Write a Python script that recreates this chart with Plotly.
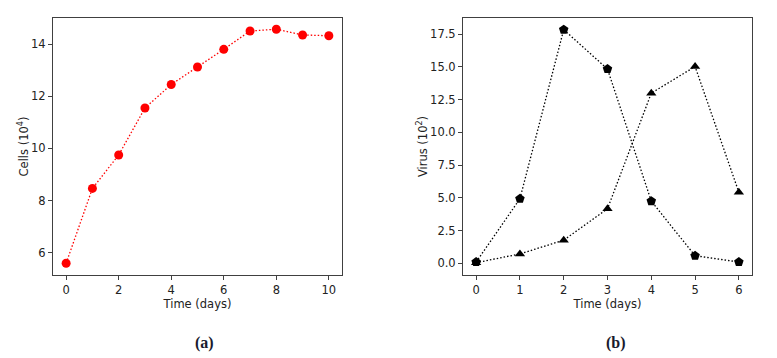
import plotly.graph_objects as go

# panel (a): cell counts
cell_days = [0, 1, 2, 3, 4, 5, 6, 7, 8, 9, 10]
cells = [5.6, 8.47, 9.75, 11.55, 12.45, 13.12, 13.8, 14.5, 14.57, 14.35, 14.32]

# panel (b): virus titres
virus_days = [0, 1, 2, 3, 4, 5, 6]
virus_pent = [0.1, 4.93, 17.85, 14.84, 4.75, 0.58, 0.1]
virus_tri = [0.05, 0.72, 1.77, 4.17, 13.0, 15.03, 5.43]

# the page body keeps an 8px margin, so the figure is drawn 8px in from the corner
PAD = 8
W, H = 777 - PAD, 358 - PAD
font = 'DejaVu Sans'
axis_color = '#404040'
dots = '1.5px,2px'


def px(x):
	return (x - PAD) / W


def py(y):
	return 1 - (y - PAD) / H


fig = go.Figure()

fig.add_trace(go.Scatter(
	x=cell_days, y=cells, mode='lines+markers',
	line={'color': '#ff0000', 'dash': dots, 'width': 1.3},
	marker={'color': '#ff0000', 'size': 9, 'symbol': 'circle'},
	xaxis='x', yaxis='y',
))
fig.add_trace(go.Scatter(
	x=virus_days, y=virus_pent, mode='lines+markers',
	line={'color': '#000000', 'dash': dots, 'width': 1.3},
	marker={'color': '#000000', 'size': 10, 'symbol': 'pentagon'},
	xaxis='x2', yaxis='y2',
))
fig.add_trace(go.Scatter(
	x=virus_days, y=virus_tri, mode='lines+markers',
	line={'color': '#000000', 'dash': dots, 'width': 1.3},
	marker={'color': '#000000', 'size': 9, 'symbol': 'triangle-up'},
	xaxis='x2', yaxis='y2',
))

axis_style = {
	'showgrid': False, 'zeroline': False, 'automargin': False,
	'showline': True, 'mirror': True, 'linecolor': axis_color, 'linewidth': 1,
	'ticks': 'outside', 'ticklen': 4, 'tickcolor': axis_color,
	'tickfont': {'family': font, 'size': 11.5, 'color': '#222222'},
	'title_font': {'family': font, 'size': 11.5, 'color': '#222222'},
}

fig.update_layout(
	width=W, height=H,
	margin={'t': 0, 'r': 0, 'b': 0, 'l': 0},
	paper_bgcolor='white', plot_bgcolor='white',
	showlegend=False,
	xaxis={**axis_style, 'domain': [px(53), px(342)], 'anchor': 'y',
		'range': [-0.5, 10.5], 'tickvals': [0, 2, 4, 6, 8, 10],
		'title': {'text': 'Time (days)', 'standoff': 3}},
	yaxis={**axis_style, 'domain': [py(275), py(18)], 'anchor': 'x',
		'range': [5.15, 15.0], 'tickvals': [6, 8, 10, 12, 14],
		'title': {'text': 'Cells (10<sup>4</sup>)', 'standoff': 0}},
	xaxis2={**axis_style, 'domain': [px(463), px(752)], 'anchor': 'y2',
		'range': [-0.3, 6.3], 'tickvals': [0, 1, 2, 3, 4, 5, 6],
		'title': {'text': 'Time (days)', 'standoff': 3}},
	yaxis2={**axis_style, 'domain': [py(275), py(18)], 'anchor': 'x2',
		'range': [-0.89, 18.74], 'tickvals': [0, 2.5, 5, 7.5, 10, 12.5, 15, 17.5],
		'tickformat': '.1f',
		'title': {'text': 'Virus (10<sup>2</sup>)', 'standoff': 0}},
)

# panel captions
for label, xc in [('(a)', 205), ('(b)', 616)]:
	fig.add_annotation(
		text=f'<b>{label}</b>', x=px(xc), y=py(343),
		xref='paper', yref='paper', showarrow=False,
		xanchor='center', yanchor='middle',
		font={'family': 'Liberation Serif', 'size': 16, 'color': '#1a1a2e'},
	)

fig.write_html('out.html')
